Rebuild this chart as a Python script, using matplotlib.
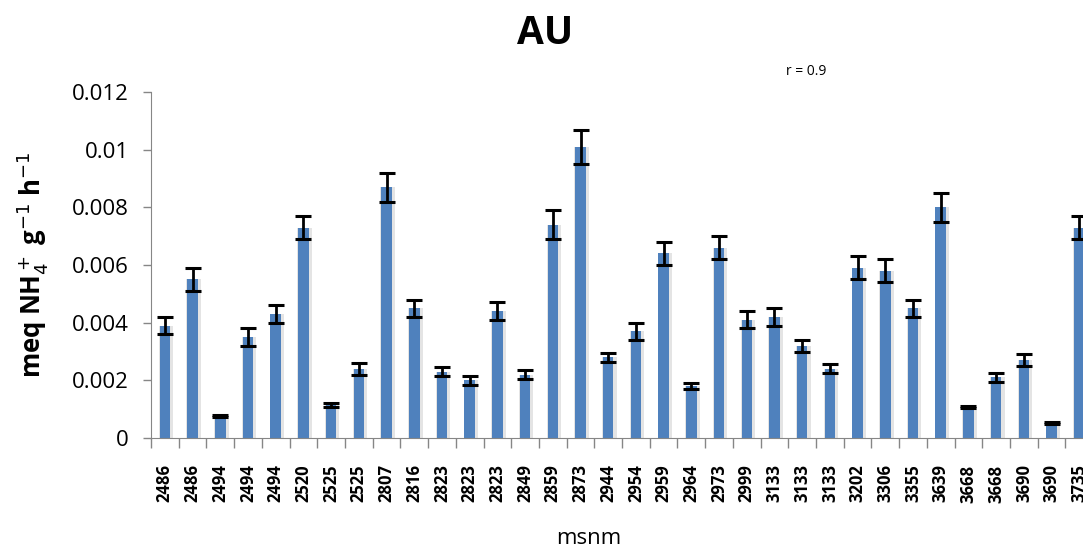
import matplotlib
matplotlib.use("Agg")
import matplotlib.pyplot as plt
import numpy as np

# altitude (m a.s.l.) of each sample
msnm = ["2486", "2486", "2494", "2494", "2494", "2520", "2525", "2525", "2807",
        "2816", "2823", "2823", "2823", "2849", "2859", "2873", "2944", "2954",
        "2959", "2964", "2973", "2999", "3133", "3133", "3133", "3202", "3306",
        "3355", "3639", "3668", "3668", "3690", "3690", "3735"]

# ammonification rate, meq NH4+ g-1 h-1
rate = [0.0039, 0.0055, 0.00077, 0.0035, 0.0043, 0.0073, 0.00114, 0.0024, 0.0087,
        0.0045, 0.0023, 0.0020, 0.0044, 0.0022, 0.0074, 0.0101, 0.0028, 0.0037,
        0.0064, 0.0018, 0.0066, 0.0041, 0.0042, 0.0032, 0.0024, 0.0059, 0.0058,
        0.0045, 0.0080, 0.00107, 0.0021, 0.0027, 0.00051, 0.0073]

err = [0.0003, 0.0004, 0.00004, 0.0003, 0.0003, 0.0004, 0.00006, 0.0002, 0.0005,
       0.0003, 0.00015, 0.00015, 0.0003, 0.00015, 0.0005, 0.0006, 0.00015, 0.0003,
       0.0004, 0.0001, 0.0004, 0.0003, 0.0003, 0.0002, 0.00015, 0.0004, 0.0004,
       0.0003, 0.0005, 0.00004, 0.00015, 0.0002, 0.00003, 0.0004]

yticks = [0, 0.002, 0.004, 0.006, 0.008, 0.01, 0.012]
ytick_labels = ["0", "0.002", "0.004", "0.006", "0.008", "0.01", "0.012"]

plt.rcParams["font.family"] = ["Open Sans", "DejaVu Sans"]

fig = plt.figure(figsize=(10.83, 5.52), dpi=100)
# axes runs past the right edge like the original export
ax = fig.add_axes([0.1394, 0.2065, 0.870, 0.6268])

x = np.arange(len(msnm))
# soft shadow behind each bar
ax.bar(x + 0.04, rate, width=0.52, color="#e4e4e4", zorder=1)
ax.bar(x, rate, width=0.38, color="#4f81bd", zorder=2)
ax.errorbar(x, rate, yerr=err, fmt="none", ecolor="black", elinewidth=2,
            capsize=5.5, capthick=2.2, zorder=3)

ax.set_xlim(-0.5, len(msnm) - 0.5)
ax.set_ylim(0, 0.012)

ax.set_yticks(yticks)
ax.set_yticklabels(ytick_labels)
ax.tick_params(axis="y", length=6, width=1, color="#868686", labelsize=16, pad=10)

ax.set_xticks(x)
ax.set_xticklabels(msnm, rotation=90, fontsize=12, fontweight="bold")
ax.set_xticks(np.arange(len(msnm) + 1) - 0.5, minor=True)
ax.tick_params(axis="x", which="major", length=0, pad=19)
ax.tick_params(axis="x", which="minor", length=7, width=1, color="#868686")

for side in ("top", "right"):
    ax.spines[side].set_visible(False)
for side in ("left", "bottom"):
    ax.spines[side].set_color("#868686")

ax.set_ylabel(r"meq NH$_4^+$ g$^{-1}$ h$^{-1}$", fontsize=18.5, fontweight="bold",
              labelpad=16)
fig.text(0.544, 0.025, "msnm", ha="center", va="center", fontsize=16)
fig.text(0.503, 0.94, "AU", ha="center", va="center", fontsize=28,
         fontweight="bold")
fig.text(0.744, 0.87, "r = 0.9", ha="center", va="center", fontsize=10)

fig.savefig("out.png", dpi=100)
